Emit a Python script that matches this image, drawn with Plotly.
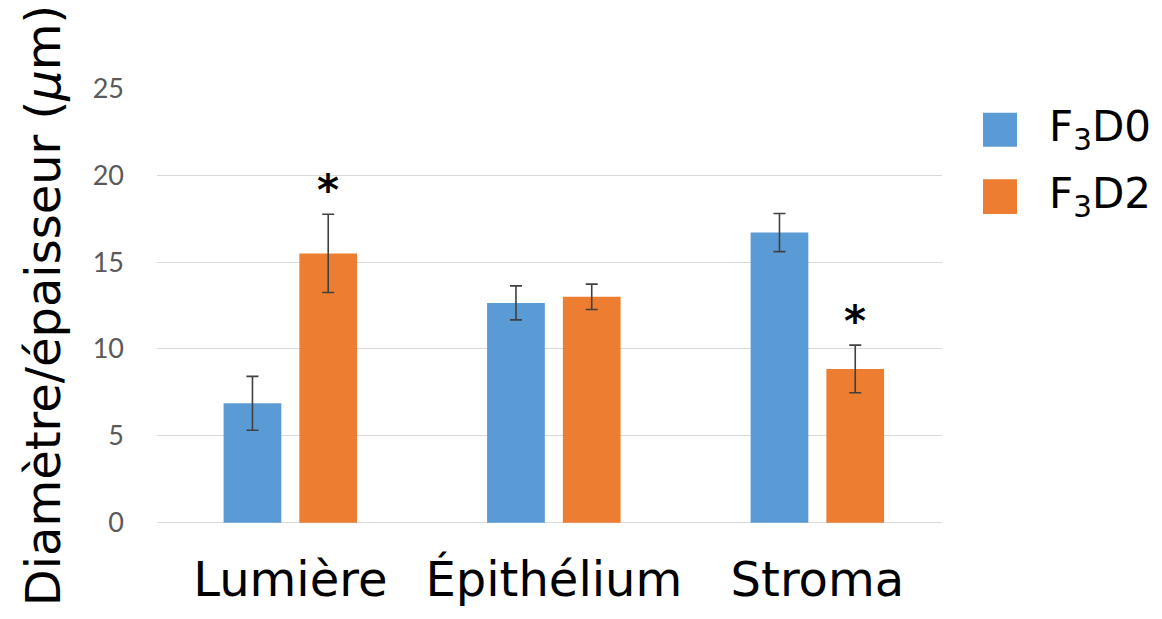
import plotly.graph_objects as go

categories = ["Lumière", "Épithélium", "Stroma"]
series_names = ["F<sub>3</sub>D0", "F<sub>3</sub>D2"]
f3d0_values = [6.87, 12.65, 16.7]
f3d0_errors = [1.55, 0.98, 1.1]
f3d2_values = [15.5, 13.0, 8.85]
f3d2_errors = [2.25, 0.73, 1.37]
sig_f3d2 = ["*", "", "*"]
y_ticks = [0, 5, 10, 15, 20, 25]

colors = ["#5B9BD5", "#ED7D31"]
W, H = 1162, 619
L, R, T, B = 157, 220, 88, 96

fig = go.Figure()
for name, vals, errs, col in [
    (series_names[0], f3d0_values, f3d0_errors, colors[0]),
    (series_names[1], f3d2_values, f3d2_errors, colors[1]),
]:
    fig.add_trace(go.Bar(
        x=categories, y=vals, name=name, marker_color=col,
        marker_line_width=0,
        error_y=dict(type="data", array=errs, visible=True,
                     color="#404040", thickness=1.6, width=6),
        showlegend=False,
    ))

# asterisks above F3D2 bars
for i, s in enumerate(sig_f3d2):
    if s:
        top = f3d2_values[i] + f3d2_errors[i]
        fig.add_annotation(x=i + 0.1436, y=top, xref="x", yref="y",
                           text="<b>" + s + "</b>", showarrow=False, yshift=24,
                           font=dict(family="DejaVu Sans", size=42, color="#000000"))

# manual legend (large squares)
def px_to_paper_x(px):
    return (px - L) / (W - L - R)

def px_to_paper_y(py):
    return (H - B - py) / (H - T - B)

legend_rows = [(112.7, 146.7), (179.3, 214.0)]
for (y0, y1), name, col in zip(legend_rows, series_names, colors):
    fig.add_shape(type="rect", xref="paper", yref="paper",
                  x0=px_to_paper_x(983), x1=px_to_paper_x(1017),
                  y0=px_to_paper_y(y1), y1=px_to_paper_y(y0),
                  fillcolor=col, line_width=0)
    fig.add_annotation(xref="paper", yref="paper",
                       x=px_to_paper_x(1047), y=px_to_paper_y((y0 + y1) / 2),
                       xanchor="left", yanchor="middle", showarrow=False,
                       text=name,
                       font=dict(family="DejaVu Sans", size=42, color="#000000"))

fig.update_layout(
    width=W, height=H,
    margin=dict(l=L, r=R, t=T, b=B, pad=0),
    plot_bgcolor="white", paper_bgcolor="white",
    barmode="group", bargap=0.425, bargroupgap=0.238,
    showlegend=False,
)
fig.update_xaxes(
    range=[-0.506, 2.473], showgrid=False, showline=False, ticks="",
    ticklabelstandoff=24,
    tickfont=dict(family="DejaVu Sans", size=48, color="#000000"),
)
fig.update_yaxes(
    range=[-0.02, 25.02], tickvals=y_ticks, showgrid=True, gridcolor="#D9D9D9",
    gridwidth=1.3, zeroline=True, zerolinecolor="#D9D9D9", zerolinewidth=1.3,
    showline=False, ticks="",
    ticklabelstandoff=32,
    tickfont=dict(family="Lato", size=27, color="#595959"),
    title=dict(text="Diamètre/épaisseur (<i>μ</i>m)", standoff=16,
               font=dict(family="DejaVu Sans", size=48, color="#000000")),
)

fig.write_html("out.html", config={"displayModeBar": False},
               post_script="document.body.style.margin='0px';")
